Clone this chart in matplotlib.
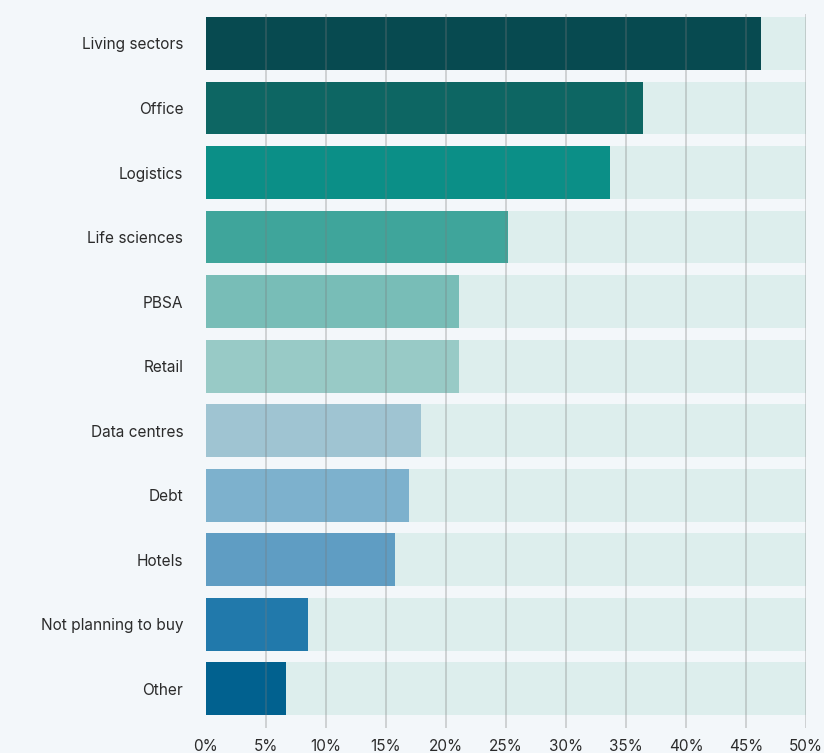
import matplotlib
matplotlib.use("Agg")
import matplotlib.pyplot as plt

categories = ["Living sectors", "Office", "Logistics", "Life sciences", "PBSA", "Retail",
              "Data centres", "Debt", "Hotels", "Not planning to buy", "Other"]
values = [46.2, 36.4, 33.7, 25.2, 21.1, 21.1, 17.9, 16.9, 15.8, 8.5, 6.7]
colors = ["#074a50", "#0d6663", "#0b8f87", "#3fa59b", "#78bdb7", "#98cac6",
          "#9fc4d2", "#7db1cd", "#5f9dc3", "#2179ab", "#01618f"]
max_value = 50
xticks = [0, 5, 10, 15, 20, 25, 30, 35, 40, 45, 50]
xtick_labels = [f"{t}%" for t in xticks]

plt.rcParams['font.family'] = ['Inter', 'DejaVu Sans']
bg = "#f3f7fa"
fig = plt.figure(figsize=(8.24, 7.53), dpi=100, facecolor=bg)
ax = fig.add_axes([0.2494, 0.0332, 0.7290, 0.9482])
ax.set_facecolor(bg)

y = list(range(len(categories)))
ax.barh(y, [max_value] * len(y), height=0.82, color="#ddeeed", zorder=1)
ax.barh(y, values, height=0.82, color=colors, zorder=2)
for t in xticks[1:]:
    ax.axvline(t, color="#7a7a7a", alpha=0.32, lw=1.3, zorder=3)

ax.set_xlim(0, 50)
ax.set_ylim(10.61, -0.457)
ax.set_yticks(y)
ax.set_yticklabels(categories, fontsize=11.1, color="#2b2b2b")
ax.set_xticks(xticks)
ax.set_xticklabels(xtick_labels, fontsize=11, color="#2b2b2b")
ax.tick_params(axis='y', length=0, pad=16)
ax.tick_params(axis='x', length=0, pad=8)
for s in ax.spines.values():
    s.set_visible(False)

fig.savefig("out.png", dpi=100, facecolor=bg)
